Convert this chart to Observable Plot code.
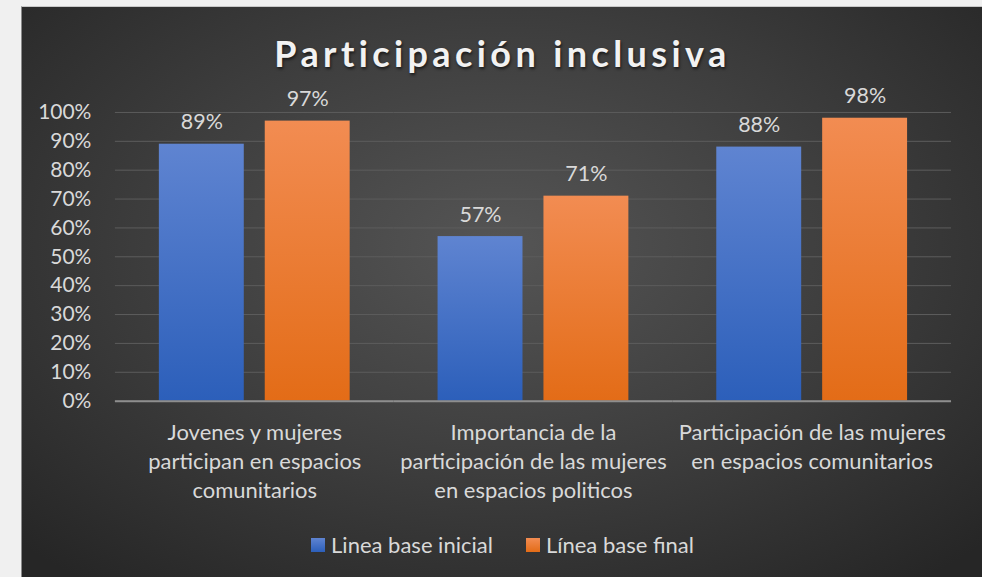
<!DOCTYPE html>
<html><head><meta charset="utf-8">
<script src="https://cdn.jsdelivr.net/npm/d3@7"></script>
<script src="https://cdn.jsdelivr.net/npm/@observablehq/plot@0.6"></script>
<style>
html,body{margin:0;padding:0;background:#f0f0f0;width:982px;height:577px;overflow:hidden;}
#panel{position:absolute;left:21px;top:6px;width:961px;height:571px;
 background:radial-gradient(ellipse 70% 75% at 50% 42%, #555555 0%, #3c3c3c 55%, #262626 100%);
 border-left:1px solid #8a8a8a;border-top:1px solid #c8c8c8;box-sizing:border-box;font-family:Lato, "Open Sans", sans-serif;}
#title{position:absolute;left:0;top:24px;width:961px;text-align:center;font-size:36px;font-weight:bold;color:#f2f2f2;letter-spacing:4.4px;text-shadow:1px 2px 3px rgba(0,0,0,0.6);line-height:44px;}
#chart{position:absolute;left:0;top:54px;}
#legend{position:absolute;left:0;top:524px;width:961px;display:flex;justify-content:center;align-items:center;gap:33px;color:#d9d9d9;font-size:22px;}
#legend .item{display:flex;align-items:center;gap:6px;}
#legend .sw{width:14px;height:14px;display:inline-block;}
</style></head>
<body>
<div id="panel">
 <div id="title">Participación inclusiva</div>
 <div id="chart"></div>
 <div id="legend"></div>
</div>
<script>
const categories = [
 "Jovenes y mujeres\nparticipan en espacios\ncomunitarios",
 "Importancia de la\nparticipación de las mujeres\nen espacios politicos",
 "Participación de las mujeres\nen espacios comunitarios"
];
const series = ["Linea base inicial", "Línea base final"];
const inicial = [0.89, 0.57, 0.88];
const final = [0.97, 0.71, 0.98];
const yTicks = [0, 0.1, 0.2, 0.3, 0.4, 0.5, 0.6, 0.7, 0.8, 0.9, 1.0];
const gradIds = ["gradBlue", "gradOrange"];
const swatchCss = ["linear-gradient(#5f84d1,#2c5fba)", "linear-gradient(#f28c52,#e36c17)"];

const data = [];
categories.forEach((c, i) => {
 data.push({category: c, series: series[0], value: inicial[i]});
 data.push({category: c, series: series[1], value: final[i]});
});
const pct = d3.format(".0%");

const chart = Plot.plot({
 width: 961, height: 465,
 marginLeft: 93, marginRight: 31, marginTop: 51, marginBottom: 125,
 style: {fontFamily: "Lato, 'Open Sans', sans-serif", fontSize: "20px", background: "transparent", color: "#d9d9d9"},
 fx: {domain: categories, padding: 0, label: null},
 x: {domain: series, paddingInner: 0.196, paddingOuter: 0.402, axis: null},
 y: {domain: [0, 1], label: null},
 marks: [
  Plot.gridY(yTicks, {stroke: "#5c5c5c", strokeOpacity: 1, strokeWidth: 1}),
  Plot.barY(data, {fx: "category", x: "series", y: "value",
   fill: d => `url(#${gradIds[series.indexOf(d.series)]})`,
   style: "filter: drop-shadow(2px 0px 2px rgba(0,0,0,0.45))"}),
  Plot.ruleY([0], {stroke: "#8e8e8e", strokeWidth: 2}),
  Plot.text(data, {fx: "category", x: "series", y: "value", text: d => pct(d.value),
   lineAnchor: "bottom", dy: -15, fill: "#d9d9d9", fontSize: 21.5}),
  Plot.axisY(yTicks, {tickFormat: pct, tickSize: 0, tickPadding: 24, fill: "#d9d9d9", fontSize: 21, label: null}),
  Plot.axisFx({anchor: "bottom", tickSize: 0, tickPadding: 19, lineHeight: 1.3, fill: "#d9d9d9", fontSize: 22, label: null})
 ]
});

// gradients for bars
const svg = d3.select(chart);
const defs = svg.insert("defs", ":first-child");
[["gradBlue", "#5f84d1", "#2c5fba"], ["gradOrange", "#f28c52", "#e36c17"]].forEach(([id, a, b]) => {
 const g = defs.append("linearGradient").attr("id", id).attr("x1", 0).attr("y1", 0).attr("x2", 0).attr("y2", 1);
 g.append("stop").attr("offset", "0%").attr("stop-color", a);
 g.append("stop").attr("offset", "100%").attr("stop-color", b);
});
document.getElementById("chart").appendChild(chart);

const legend = d3.select("#legend");
series.forEach((s, i) => {
 const it = legend.append("div").attr("class", "item");
 it.append("span").attr("class", "sw").style("background", swatchCss[i]);
 it.append("span").text(s);
});
</script>
</body></html>
